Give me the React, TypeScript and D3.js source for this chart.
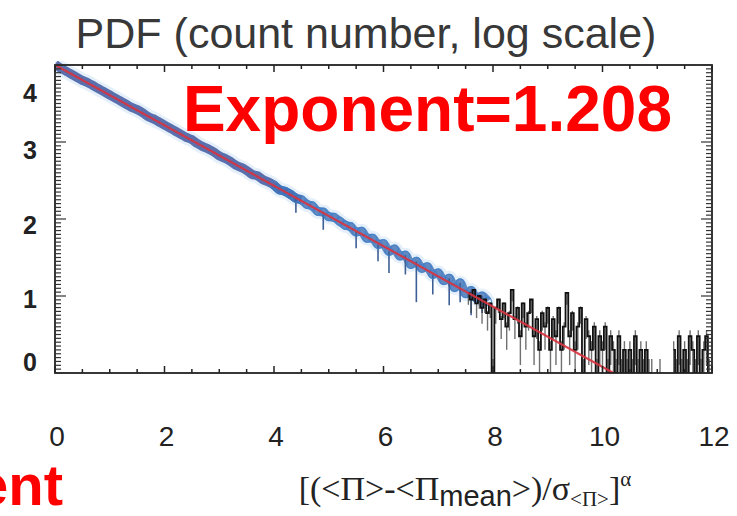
import React from 'react';
import * as d3 from 'd3';

const W = 737;
const H = 516;

// axis ticks
const xMajorTicks = [0, 2, 4, 6, 8, 10, 12];
const yMajorTicks = [0, 1, 2, 3, 4];
const xTickLabels = ['0', '2', '4', '6', '8', '10', '12'];
const yTickLabels = ['0', '1', '2', '3', '4'];

// blue binned PDF points (log10 count)
const blueX = [
  0.0, 0.1, 0.2, 0.3, 0.4, 0.5, 0.6, 0.7, 0.8, 0.9,
  1.0, 1.1, 1.2, 1.3, 1.4, 1.5, 1.6, 1.7, 1.8, 1.9,
  2.0, 2.1, 2.2, 2.3, 2.4, 2.5, 2.6, 2.7, 2.8, 2.9,
  3.0, 3.1, 3.2, 3.3, 3.4, 3.5, 3.6, 3.7, 3.8, 3.9,
  4.0, 4.1, 4.2, 4.3, 4.4, 4.5, 4.6, 4.7, 4.8, 4.9,
  5.0, 5.1, 5.2, 5.3, 5.4, 5.5, 5.6, 5.7, 5.8, 5.9,
  6.0, 6.1, 6.2, 6.3, 6.4, 6.5, 6.6, 6.7, 6.8, 6.9,
  7.0, 7.1, 7.2, 7.3, 7.4, 7.5, 7.6, 7.7, 7.8, 7.9,
];
const blueY = [
  4.01, 3.96, 3.92, 3.88, 3.84, 3.80, 3.77, 3.73, 3.69, 3.65,
  3.61, 3.57, 3.53, 3.49, 3.45, 3.42, 3.38, 3.33, 3.30, 3.26,
  3.22, 3.18, 3.14, 3.10, 3.06, 3.03, 2.98, 2.94, 2.91, 2.87,
  2.82, 2.79, 2.75, 2.70, 2.67, 2.63, 2.58, 2.56, 2.51, 2.48,
  2.44, 2.38, 2.36, 2.32, 2.27, 2.25, 2.19, 2.17, 2.10, 2.09,
  2.03, 2.02, 1.97, 1.92, 1.90, 1.83, 1.84, 1.75, 1.75, 1.67,
  1.68, 1.58, 1.61, 1.52, 1.53, 1.41, 1.45, 1.36, 1.38, 1.28,
  1.30, 1.20, 1.23, 1.11, 1.17, 1.03, 1.07, 0.97, 1.00, 0.93,
];
// visible downward error bars of the blue points
const blueDipX = [4.4, 4.9, 5.5, 5.9, 6.1, 6.4, 6.6, 6.9, 7.2, 7.4, 7.6, 7.8];
const blueDipLow = [2.08, 1.86, 1.62, 1.45, 1.30, 1.28, 0.92, 1.02, 0.88, 0.92, 0.75, 0.78];

// black tail: raw counts per bin
const blackX = [
  7.55, 7.60, 7.65, 7.70, 7.75, 7.80, 7.85, 7.90, 7.95, 8.00,
  8.05, 8.10, 8.15, 8.20, 8.25, 8.30, 8.35, 8.40, 8.45, 8.50,
  8.55, 8.60, 8.65, 8.70, 8.75, 8.80, 8.85, 8.90, 8.95, 9.00,
  9.05, 9.10, 9.15, 9.20, 9.25, 9.30, 9.35, 9.40, 9.45, 9.50,
  9.55, 9.60, 9.65, 9.70, 9.75, 9.80, 9.85, 9.90, 9.95, 10.00,
  10.05, 10.10, 10.15, 10.20, 10.25, 10.30, 10.35, 10.40, 10.45, 10.50,
  10.55, 10.60, 10.65, 10.70, 10.75, 10.80, 10.85, 10.90, 10.95, 11.00,
  11.05, 11.10, 11.15, 11.20, 11.25, 11.30, 11.35, 11.40, 11.45, 11.50,
  11.55, 11.60, 11.65, 11.70, 11.75, 11.80, 11.85, 11.90, 11.95,
];
const blackCount = [
  11, 9, 12, 8, 10, 7, 9, 6, 8, 1,
  7, 9, 5, 8, 4, 6, 12, 5, 7, 3,
  8, 4, 6, 9, 3, 5, 2, 6, 4, 7,
  2, 5, 3, 7, 2, 4, 11, 3, 6, 2,
  4, 7, 1, 5, 3, 2, 4, 1, 3, 2,
  4, 1, 3, 2, 1, 3, 1, 2, 1, 2,
  1, 3, 1, 2, 1, 2, 1, 1, 0, 0,
  1, 0, 0, 0, 0, 2, 1, 3, 1, 2,
  1, 3, 2, 1, 3, 1, 2, 3, 1,
];

// power-law fit line endpoints
const fitX = [0, 10.2];
const fitY = [4.0, 0];

const plot = { left: 55, right: 712, top: 65, bottom: 373 };
const yLabelDy = [-11, 3, 6, 8, 28];

export default function App() {
  const x = d3.scaleLinear().domain([0, 12]).range([plot.left, plot.right]);
  const y = d3.scaleLinear().domain([0, 4]).range([plot.bottom, plot.top]);

  const xMinor = d3.range(0, 12.001, 0.5);
  const yMinor = d3.range(0, 4.001, 0.05);

  const bluePts = blueX.map((v, i) => [v, blueY[i]] as [number, number]);
  const blueFirst = bluePts.filter(d => d[0] <= 4.5);
  const blueSecond = bluePts.filter(d => d[0] >= 4.0);
  const bandLine = d3.line<[number, number]>().x(d => x(d[0])).y(d => y(d[1])).curve(d3.curveMonotoneX);

  const blackPts = blackX.map((v, i) => ({ x: v, n: blackCount[i] }));
  const stepLine = d3
    .line<{ x: number; n: number }>()
    .defined(d => d.n > 0)
    .x(d => x(d.x))
    .y(d => y(Math.log10(d.n)))
    .curve(d3.curveStep);

  const fitLine = d3.line<number>().x((_, i) => x(fitX[i])).y(v => y(v));

  const labelFont = "'Liberation Sans', Arial, Helvetica, sans-serif";

  return (
    <svg width={W} height={H} style={{ position: 'absolute', left: 0, top: 0, background: '#fff' }}>
      <rect x={0} y={0} width={W} height={H} fill="#fff" />
      <defs>
        <clipPath id="plotclip">
          <rect x={plot.left} y={plot.top - 4} width={plot.right - plot.left} height={plot.bottom - plot.top + 4} />
        </clipPath>
      </defs>

      {/* title */}
      <text x={366} y={48} textAnchor="middle" fontFamily={labelFont} fontSize={43} fill="#383838">
        PDF (count number, log scale)
      </text>

      <g clipPath="url(#plotclip)">
        {/* blue band */}
        <path d={bandLine(bluePts) || ''} fill="none" stroke="#a9cdef" strokeWidth={15} strokeOpacity={0.3} strokeLinecap="round" strokeLinejoin="round" />
        <path d={bandLine(blueFirst) || ''} fill="none" stroke="#4b5597" strokeWidth={9} strokeOpacity={0.85} strokeLinejoin="round" />
        <path d={bandLine(blueSecond) || ''} fill="none" stroke="#4170b4" strokeWidth={9} strokeOpacity={0.8} strokeLinejoin="round" />
        {blueDipX.map((v, i) => {
          const yi = blueY[blueX.findIndex(b => Math.abs(b - v) < 1e-6)];
          return (
            <line key={'bd' + i} x1={x(v)} x2={x(v)} y1={y(yi)} y2={y(blueDipLow[i])} stroke="#3d5f95" strokeWidth={1.6} />
          );
        })}
        {bluePts.map((d, i) => (
          <circle key={'bc' + i} cx={x(d[0])} cy={y(d[1])} r={4} fill="none" stroke="#3a80cc" strokeWidth={1.2} strokeOpacity={d[0] < 4 ? 0.35 : 0.8} />
        ))}

        {/* black tail */}
        {blackPts.filter(d => d.n > 0).map((d, i) => {
          const lo = Math.log10(Math.max(1, d.n - Math.sqrt(d.n)));
          const hi = Math.log10(d.n + Math.sqrt(d.n)) - 0.12;
          return (
            <line key={'be' + i} x1={x(d.x)} x2={x(d.x)} y1={y(Math.max(hi, Math.log10(d.n)))} y2={y(lo)} stroke="#333" strokeWidth={1.4} strokeOpacity={0.7} />
          );
        })}
        <path d={stepLine(blackPts) || ''} fill="none" stroke="#111" strokeWidth={1.8} />

        {/* fit */}
        <path d={fitLine(fitY) || ''} fill="none" stroke="#d8333f" strokeWidth={2.2} strokeOpacity={0.9} />
      </g>

      {/* frame */}
      <rect x={plot.left} y={plot.top} width={plot.right - plot.left} height={plot.bottom - plot.top} fill="none" stroke="#222" strokeWidth={1.8} />

      {/* x ticks */}
      {xMinor.map((v, i) => {
        const major = Math.abs(v / 2 - Math.round(v / 2)) < 1e-6;
        const len = major ? 7 : 4;
        return (
          <g key={'xt' + i} stroke="#222" strokeWidth={1.5}>
            <line x1={x(v)} x2={x(v)} y1={plot.bottom} y2={plot.bottom - len} />
            <line x1={x(v)} x2={x(v)} y1={plot.top} y2={plot.top + len} />
          </g>
        );
      })}
      {/* y ticks */}
      {yMinor.map((v, i) => {
        const major = Math.abs(v - Math.round(v)) < 1e-6;
        const len = major ? 11 : 6;
        return (
          <g key={'yt' + i} stroke="#333" strokeWidth={1.2}>
            <line x1={plot.left} x2={plot.left + len} y1={y(v)} y2={y(v)} />
            <line x1={plot.right} x2={plot.right - len} y1={y(v)} y2={y(v)} />
          </g>
        );
      })}

      {/* x tick labels */}
      {xMajorTicks.map((v, i) => (
        <text key={'xl' + i} x={x(v) + 2} y={446} textAnchor="middle" fontFamily={labelFont} fontSize={28} fill="#222">
          {xTickLabels[i]}
        </text>
      ))}
      {/* y tick labels */}
      {yMajorTicks.map((v, i) => (
        <text key={'yl' + i} x={37} y={y(v) + yLabelDy[i]} dy="0.36em" textAnchor="end" fontFamily={labelFont} fontSize={25} fontWeight="bold" fill="#222">
          {yTickLabels[i]}
        </text>
      ))}

      {/* x axis title */}
      <text x={465} y={500} textAnchor="middle" fontFamily="'Liberation Serif', 'Times New Roman', serif" fontSize={34} fill="#222">
        <tspan>[(&lt;Π&gt;-&lt;Π</tspan>
        <tspan fontFamily={labelFont} fontSize={29} dy={6}>mean</tspan>
        <tspan dy={-6}>&gt;)/σ</tspan>
        <tspan fontSize={21} dy={6}>&lt;Π&gt;</tspan>
        <tspan dy={-6}>]</tspan>
        <tspan fontSize={21} dy={-14}>α</tspan>
      </text>

      {/* annotations */}
      <text x={672} y={131} textAnchor="end" fontFamily={labelFont} fontWeight="bold" fontSize={64} fill="#ff0000">
        Exponent=1.208
      </text>
      <text x={63} y={505} textAnchor="end" fontFamily={labelFont} fontWeight="bold" fontSize={58} fill="#ff0000">
        ent
      </text>
    </svg>
  );
}
